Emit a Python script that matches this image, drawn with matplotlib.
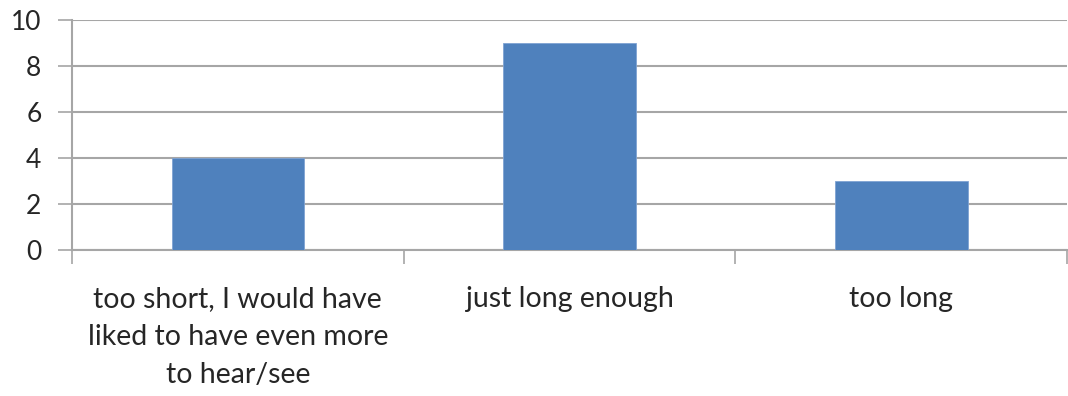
import matplotlib
matplotlib.use("Agg")
import matplotlib.pyplot as plt
import numpy as np

categories = ["too short, I would have\nliked to have even more\nto hear/see",
              "just long enough",
              "too long"]
values = [4, 9, 3]
y_ticks = [0, 2, 4, 6, 8, 10]

plt.rcParams["font.family"] = ["Lato", "DejaVu Sans"]

fig = plt.figure(figsize=(10.68, 3.96), dpi=100)
ax = fig.add_axes([72 / 1068, 1 - 250 / 396, 995 / 1068, 230 / 396])

x = np.arange(len(categories))
ax.bar(x, values, width=0.4, color="#4F81BD", edgecolor="#7FA3D3", linewidth=0.6, zorder=3)

ax.set_xlim(-0.5, len(categories) - 0.5)
ax.set_ylim(0, 10)
ax.set_yticks(y_ticks)
ax.yaxis.grid(True, color="#A6A6A6", linewidth=1.5, zorder=0)

ax.set_xticks(x)
ax.set_xticklabels(categories, fontsize=20.5, color="#262626", linespacing=1.58)
ax.set_xticks(np.arange(-0.5, len(categories), 1.0), minor=True)
ax.tick_params(axis="x", which="major", length=0, pad=26)
ax.tick_params(axis="x", which="minor", length=10, width=1.2, color="#A6A6A6", direction="out")
ax.tick_params(axis="y", length=10, width=1.2, color="#A6A6A6", labelsize=19,
               labelcolor="#262626", pad=12)

for s in ["top", "right"]:
    ax.spines[s].set_visible(False)
for s in ["left", "bottom"]:
    ax.spines[s].set_color("#A6A6A6")
    ax.spines[s].set_linewidth(1.5)

fig.savefig("out.png", dpi=100)
plt.close(fig)
